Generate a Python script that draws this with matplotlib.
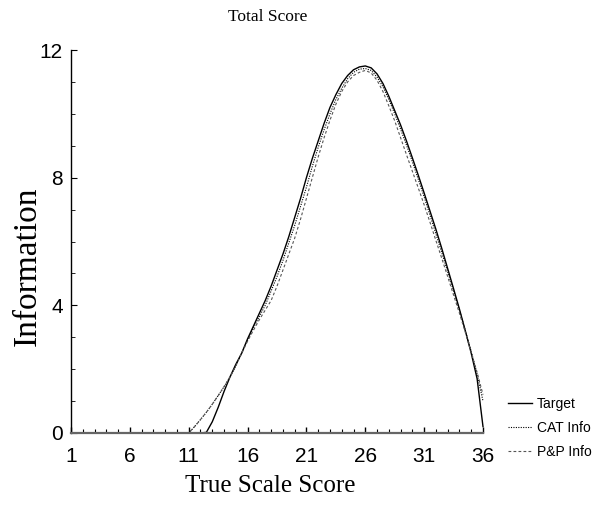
import matplotlib
matplotlib.use("Agg")
import matplotlib.pyplot as plt
from matplotlib.ticker import MultipleLocator, FixedLocator

# true scale score grid (half-point steps over the range where information is non-zero)
score = [1, 11, 11.5, 12, 12.5, 13, 13.5, 14, 14.5, 15, 15.5, 16, 16.5, 17, 17.5,
         18, 18.5, 19, 19.5, 20, 20.5, 21, 21.5, 22, 22.5, 23, 23.5, 24, 24.5,
         25, 25.5, 26, 26.5, 27, 27.5, 28, 28.5, 29, 29.5, 30, 30.5, 31, 31.5,
         32, 32.5, 33, 33.5, 34, 34.5, 35, 35.5, 36]

target = [0, 0, 0, 0, 0.02, 0.35, 0.8, 1.3, 1.75, 2.15, 2.5, 2.95, 3.35, 3.75, 4.15,
          4.6, 5.1, 5.6, 6.15, 6.75, 7.35, 8.0, 8.6, 9.15, 9.7, 10.2, 10.6, 10.95, 11.2,
          11.38, 11.47, 11.5, 11.44, 11.25, 10.95, 10.55, 10.1, 9.65, 9.15, 8.62, 8.08,
          7.52, 6.95, 6.38, 5.78, 5.15, 4.52, 3.88, 3.2, 2.5, 1.7, 0.2]

cat_info = [0, 0, 0.2, 0.42, 0.65, 0.9, 1.17, 1.45, 1.75, 2.1, 2.5, 2.9, 3.3, 3.65, 4.0,
            4.45, 4.9, 5.4, 5.95, 6.5, 7.1, 7.7, 8.35, 8.95, 9.5, 10.0, 10.45, 10.8, 11.1,
            11.3, 11.4, 11.42, 11.36, 11.15, 10.85, 10.45, 10.0, 9.52, 9.02, 8.5, 7.95,
            7.4, 6.82, 6.24, 5.65, 5.05, 4.45, 3.85, 3.2, 2.55, 1.85, 1.0]

pp_info = [0, 0, 0.2, 0.42, 0.65, 0.9, 1.17, 1.45, 1.75, 2.1, 2.5, 2.88, 3.22, 3.55, 3.85,
           4.15, 4.6, 5.1, 5.6, 6.1, 6.7, 7.35, 8.0, 8.65, 9.25, 9.8, 10.3, 10.7, 11.0,
           11.2, 11.3, 11.36, 11.28, 11.05, 10.7, 10.25, 9.78, 9.25, 8.72, 8.2, 7.68,
           7.15, 6.6, 6.03, 5.47, 4.9, 4.32, 3.75, 3.15, 2.52, 1.9, 1.2]

x_ticks = [1, 6, 11, 16, 21, 26, 31, 36]
y_ticks = [0, 4, 8, 12]

sans = "Liberation Sans"
serif = "Liberation Serif"

fig = plt.figure(figsize=(5.95, 5.14), dpi=100)
ax = fig.add_axes([71 / 595, 81 / 514, 412 / 595, 383 / 514])

ax.plot(score, target, color="black", lw=1.0, label="Target", clip_on=False)
ax.plot(score, cat_info, color="black", lw=0.8, linestyle=(0, (1, 1.2)),
        label="CAT Info", clip_on=False)
ax.plot(score, pp_info, color="#555555", lw=0.8, linestyle=(0, (2.5, 2)),
        label="P&P Info", clip_on=False)

ax.set_xlim(1, 36)
ax.set_ylim(0, 12)
ax.xaxis.set_major_locator(FixedLocator(x_ticks))
ax.xaxis.set_minor_locator(MultipleLocator(1))
ax.yaxis.set_major_locator(FixedLocator(y_ticks))
ax.yaxis.set_minor_locator(MultipleLocator(1))

for side in ("top", "right"):
    ax.spines[side].set_visible(False)
ax.spines["left"].set_linewidth(1.0)
ax.spines["bottom"].set_linewidth(1.6)
ax.spines["bottom"].set_color("#666666")

ax.tick_params(axis="both", which="both", direction="in")
ax.tick_params(axis="y", which="major", length=4, width=0.8, pad=6)
ax.tick_params(axis="y", which="minor", length=3, width=0.6)
ax.tick_params(axis="x", which="major", length=4, width=1.0, pad=10)
ax.tick_params(axis="x", which="minor", length=3, width=0.8)

for lab in ax.get_xticklabels() + ax.get_yticklabels():
    lab.set_fontfamily(sans)
    lab.set_fontsize(15)

fig.text(268 / 595, 1 - 17 / 514, "Total Score", family=serif, fontsize=12.5,
         ha="center", va="center")
fig.text(270 / 595, 1 - 486 / 514, "True Scale Score", family=serif, fontsize=18,
         ha="center", va="center")
fig.text(28 / 595, 1 - 266 / 514, "Information", family=serif, fontsize=24,
         ha="center", va="center", rotation=90)

fig.legend(loc="upper left", bbox_to_anchor=(508 / 595, 1 - 397 / 514),
           frameon=False, borderpad=0, borderaxespad=0, handlelength=1.75,
           handletextpad=0.35, labelspacing=0.72,
           prop={"family": sans, "size": 10})

fig.savefig("out.png", dpi=100)
